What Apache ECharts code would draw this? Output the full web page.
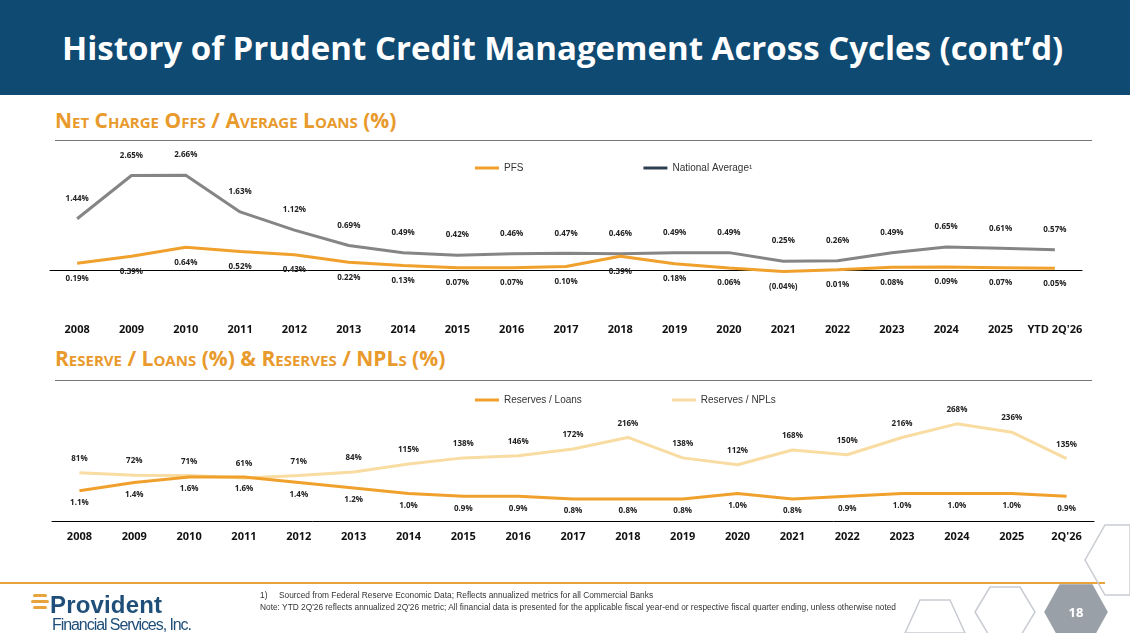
<!DOCTYPE html>
<html><head><meta charset="utf-8">
<script src="https://cdn.jsdelivr.net/npm/echarts@6/dist/echarts.min.js"></script>
<style>
body{margin:0;width:1130px;height:633px;overflow:hidden;background:#fff;font-family:"Open Sans",sans-serif;position:relative}
#hdr{position:absolute;left:0;top:0;width:1130px;height:95px;background:#0f4a72;color:#fff;font-weight:bold;font-size:33px;line-height:95px;padding-left:62px;box-sizing:border-box}
.sec{position:absolute;left:55px;color:#e89a2c;font-weight:bold;font-size:21px;font-variant:small-caps}
.rule{position:absolute;left:55px;width:1037px;height:1px;background:#777}
#chart{position:absolute;left:0;top:0;width:1130px;height:633px}
#foot{position:absolute;left:0;top:582px;width:1105px;height:2px;background:#e8a33d}
.note{position:absolute;left:260px;font-size:8.5px;color:#333;font-family:"Liberation Sans",sans-serif;transform:scaleX(0.98);transform-origin:left;white-space:nowrap}
</style></head><body>
<div id="hdr">History of Prudent Credit Management Across Cycles (cont’d)</div>
<div class="sec" style="top:106px">Net Charge Offs / Average Loans (%)</div>
<div class="rule" style="top:140px"></div>
<div class="sec" style="top:344px">Reserve / Loans (%) &amp; Reserves / NPLs (%)</div>
<div class="rule" style="top:380px"></div>
<div id="chart"></div>
<div id="foot"></div>
<svg style="position:absolute;left:0;top:0" width="1130" height="633">
<g fill="none" stroke="#c8ccd2" stroke-width="1.5">
<polygon points="1085,560 1105,525 1130,525 1130,595 1105,595"/>
<polygon points="1045,612 1060,585 1092,585 1107,612 1092,639 1060,639" fill="#9aa0a8" stroke="#9aa0a8"/>
<polygon points="975,612 990,587 1020,587 1035,612 1020,637 990,637"/>
<polygon points="905,633 920,600 950,600 965,633"/>
</g>
<text x="1076" y="617" fill="#fff" font-size="13" font-weight="bold" text-anchor="middle" font-family="Open Sans">18</text>
<g fill="#e8a33d"><rect x="33" y="594" width="14" height="3" rx="1.5"/><rect x="31" y="600" width="18" height="3" rx="1.5"/><rect x="33" y="606" width="14" height="3" rx="1.5"/></g>
<text x="50" y="613" fill="#1f4e79" font-size="24" font-weight="bold" font-family="Liberation Sans" textLength="112">Provident</text>
<text x="52" y="630" fill="#1f4e79" font-size="16" font-family="Liberation Sans" textLength="140">Financial Services, Inc.</text>
</svg>
<div class="note" style="top:590px">1)&nbsp;&nbsp;&nbsp;&nbsp;&nbsp;Sourced from Federal Reserve Economic Data; Reflects annualized metrics for all Commercial Banks</div>
<div class="note" style="top:602px">Note: YTD 2Q'26 reflects annualized 2Q'26 metric; All financial data is presented for the applicable fiscal year-end or respective fiscal quarter ending, unless otherwise noted</div>
<script>
const yearsTop = ['2008','2009','2010','2011','2012','2013','2014','2015','2016','2017','2018','2019','2020','2021','2022','2023','2024','2025',"YTD 2Q'26"];
const pfsNco = [0.19,0.39,0.64,0.52,0.43,0.22,0.13,0.07,0.07,0.10,0.39,0.18,0.06,-0.04,0.01,0.08,0.09,0.07,0.05];
const natNco = [1.44,2.65,2.66,1.63,1.12,0.69,0.49,0.42,0.46,0.47,0.46,0.49,0.49,0.25,0.26,0.49,0.65,0.61,0.57];
const yearsBot = ['2008','2009','2010','2011','2012','2013','2014','2015','2016','2017','2018','2019','2020','2021','2022','2023','2024','2025',"2Q'26"];
const resLoans = [1.1,1.4,1.6,1.6,1.4,1.2,1.0,0.9,0.9,0.8,0.8,0.8,1.0,0.8,0.9,1.0,1.0,1.0,0.9];
const resNpls = [81,72,71,61,71,84,115,138,146,172,216,138,112,168,150,216,268,236,135];

const ORANGE='#f0a02c', GRAY='#858585', DARK='#2e3f50', LIGHT='#f8dca2';
const lbl = {fontSize:8,fontWeight:'bold',color:'#222',fontFamily:'Open Sans'};
const pct = v => v<0?'('+Math.abs(v).toFixed(2)+'%)':v.toFixed(2)+'%';
const xl = {fontSize:11,fontWeight:'bold',color:'#111',fontFamily:'Open Sans',interval:0};
const chart = echarts.init(document.getElementById('chart'));
const sym = {symbol:'circle',symbolSize:0.1,showSymbol:true};
chart.setOption({
  animation:false,
  legend:[
    {left:470,top:158,itemGap:120,itemWidth:24,itemHeight:3,icon:'rect',textStyle:{fontSize:10,color:'#333'},
     data:[{name:'PFS',itemStyle:{color:ORANGE}},{name:'National Average¹',itemStyle:{color:DARK}}]},
    {left:470,top:390,itemGap:90,itemWidth:24,itemHeight:3,icon:'rect',textStyle:{fontSize:10,color:'#333'},
     data:[{name:'Reserves / Loans',itemStyle:{color:ORANGE}},{name:'Reserves / NPLs',itemStyle:{color:LIGHT}}]}
  ],
  grid:[{left:50,width:1032,top:163,height:125},{left:52,width:1042,top:400,height:121}],
  xAxis:[
    {gridIndex:0,type:'category',data:yearsTop,axisLine:{onZero:true,lineStyle:{color:'#000'}},axisTick:{show:false},axisLabel:Object.assign({margin:36},xl)},
    {gridIndex:1,type:'category',data:yearsBot,axisLine:{onZero:false,lineStyle:{color:'#000'}},axisTick:{show:false},axisLabel:Object.assign({margin:10},xl)}
  ],
  yAxis:[
    {gridIndex:0,type:'value',min:-0.5,max:3.0,show:false,splitLine:{show:false}},
    {gridIndex:1,type:'value',min:-103,max:359,show:false,splitLine:{show:false}},
    {gridIndex:1,type:'value',min:0,max:4.4,show:false,splitLine:{show:false}}
  ],
  series:[
    Object.assign({name:'National Average¹',type:'line',xAxisIndex:0,yAxisIndex:0,data:natNco,
     lineStyle:{color:GRAY,width:3},itemStyle:{color:DARK},
     label:Object.assign({show:true,position:'top',distance:16,formatter:p=>pct(p.value)},lbl)},sym),
    Object.assign({name:'PFS',type:'line',xAxisIndex:0,yAxisIndex:0,data:pfsNco,
     lineStyle:{color:ORANGE,width:3},itemStyle:{color:ORANGE},
     label:Object.assign({show:true,position:'bottom',distance:11,formatter:p=>pct(p.value)},lbl)},sym),
    Object.assign({name:'Reserves / NPLs',type:'line',xAxisIndex:1,yAxisIndex:1,data:resNpls,
     lineStyle:{color:LIGHT,width:3},itemStyle:{color:LIGHT},
     label:Object.assign({show:true,position:'top',distance:10,formatter:p=>p.value+'%'},lbl)},sym),
    Object.assign({name:'Reserves / Loans',type:'line',xAxisIndex:1,yAxisIndex:2,data:resLoans,
     lineStyle:{color:ORANGE,width:3},itemStyle:{color:ORANGE},
     label:Object.assign({show:true,position:'bottom',distance:8,formatter:p=>p.value.toFixed(1)+'%'},lbl)},sym)
  ]
});
</script>
</body></html>
